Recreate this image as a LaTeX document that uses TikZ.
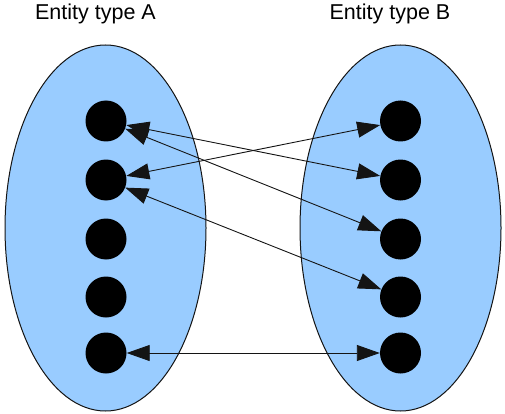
\documentclass[tikz,border=0pt]{standalone}
\usepackage{fontspec}
\setmainfont{Liberation Sans}
\usetikzlibrary{arrows.meta,positioning,shapes.geometric}
\definecolor{skyblue}{RGB}{153,204,255}
\definecolor{ink}{RGB}{20,20,20}
\tikzset{
  link/.style={{Triangle[length=23pt,width=16pt]}-{Triangle[length=23pt,width=16pt]},line width=0.9pt,draw=ink},
  set/.style={ellipse,draw=ink,fill=skyblue,line width=1pt,minimum width=201pt,minimum height=366pt,inner sep=0pt},
  member/.style={circle,fill=black,minimum size=41pt,inner sep=0pt},
  heading/.style={font=\fontsize{21.5}{24}\selectfont,anchor=base},
}
\begin{document}
\begin{tikzpicture}[x=1pt,y=-1pt]
  \useasboundingbox (0,0) rectangle (505,414);
  % the two entity sets
  \node[set] (setA) at (105.5,228) {};
  \node[set] (setB) at (400.5,228) {};
  \node[heading] (titleA) at (95.5,20) {Entity type A};
  \node[heading] (titleB) at (390,20) {Entity type B};
  % members
  \foreach \y [count=\k] in {121,180,239,297,353}{
    \node[member] (a\k) at (106,\y) {};
    \node[member] (b\k) at (400.5,\y) {};
  }
  % relationship links
  \draw[link] (a1) -- (b2);
  \draw[link] (a1) -- (b3);
  \draw[link] (a2) -- (b1);
  \draw[link] (a2) -- (b4);
  \draw[link] (a5) -- (b5);
\end{tikzpicture}
\end{document}
